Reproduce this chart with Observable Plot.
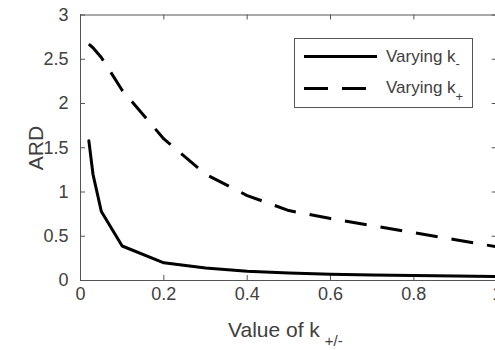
<!DOCTYPE html>
<html>
<head>
<meta charset="utf-8">
<script src="https://cdn.jsdelivr.net/npm/d3@7"></script>
<script src="https://cdn.jsdelivr.net/npm/@observablehq/plot@0.6"></script>
<style>
  html, body { margin: 0; padding: 0; background: #fff; }
  #chart { width: 495px; height: 350px; overflow: hidden; }
</style>
</head>
<body>
<div id="chart"></div>
<script>
// ---- data ----
const kValues = [0.02, 0.03, 0.05, 0.1, 0.2, 0.3, 0.4, 0.5, 0.6, 0.7, 0.8, 0.9, 1.0];
const ardVaryingKMinus = [1.58, 1.2, 0.78, 0.39, 0.2, 0.14, 0.105, 0.085, 0.07, 0.062, 0.056, 0.05, 0.045];
const ardVaryingKPlus  = [2.67, 2.63, 2.52, 2.15, 1.6, 1.2, 0.96, 0.79, 0.70, 0.62, 0.54, 0.46, 0.38];
const xTicks = [0, 0.2, 0.4, 0.6, 0.8, 1];
const yTicks = [0, 0.5, 1, 1.5, 2, 2.5, 3];
const seriesNames = ["Varying k-", "Varying k+"];

const rows = [
  ...kValues.map((k, i) => ({k, ard: ardVaryingKMinus[i], s: seriesNames[0]})),
  ...kValues.map((k, i) => ({k, ard: ardVaryingKPlus[i], s: seriesNames[1]}))
];

// ---- layout ----
const W = 495, H = 350;
const xRange = [80, 496.7];
const yRange = [280, 14.5];
const axisColor = "#555";
const textColor = "#404040";
const tickPx = 5;
const xTickLen = tickPx * 1 / (xRange[1] - xRange[0]);
const yTickLen = tickPx * 3 / (yRange[0] - yRange[1]);

const plot = Plot.plot({
  width: W,
  height: H,
  marginLeft: 80,
  marginRight: 0,
  marginTop: 14.5,
  marginBottom: 70,
  style: {fontFamily: "'Liberation Sans', Arial, Helvetica, sans-serif", background: "#fff", overflow: "visible"},
  x: {domain: [0, 1], range: xRange},
  y: {domain: [0, 3], range: yRange},
  marks: [
    // box
    Plot.ruleX([0, 1], {stroke: axisColor, strokeWidth: 1}),
    Plot.ruleY([0, 3], {stroke: axisColor, strokeWidth: 1}),
    // inward ticks
    Plot.ruleX(xTicks, {x: d => d, y1: 0, y2: yTickLen, stroke: axisColor}),
    Plot.ruleX(xTicks, {x: d => d, y1: 3 - yTickLen, y2: 3, stroke: axisColor}),
    Plot.ruleY(yTicks, {y: d => d, x1: 0, x2: xTickLen, stroke: axisColor}),
    Plot.ruleY(yTicks, {y: d => d, x1: 1 - xTickLen, x2: 1, stroke: axisColor}),
    // tick labels
    Plot.axisX({ticks: xTicks, tickFormat: d => String(d), tickSize: 0, tickPadding: 7, fontSize: 18, color: textColor, label: null}),
    Plot.axisY({ticks: yTicks, tickFormat: d => String(d), tickSize: 0, tickPadding: 12, fontSize: 18, color: textColor, label: null}),
    // series
    Plot.line(rows.filter(d => d.s === seriesNames[0]), {x: "k", y: "ard", stroke: "#000", strokeWidth: 3, strokeLinejoin: "round"}),
    Plot.line(rows.filter(d => d.s === seriesNames[1]), {x: "k", y: "ard", stroke: "#000", strokeWidth: 3, strokeDasharray: "22,14", strokeLinecap: "butt"})
  ]
});

document.getElementById("chart").appendChild(plot);

// ---- labels & legend (annotations) ----
const svg = d3.select(plot);
const font = "'Liberation Sans', Arial, Helvetica, sans-serif";

// x label
const xl = svg.append("text")
  .attr("x", 228).attr("y", 337).attr("text-anchor", "start")
  .attr("font-family", font).attr("font-size", 21).attr("fill", textColor);
xl.append("tspan").text("Value of k");
xl.append("tspan").attr("dx", 5).attr("dy", 9).attr("font-size", 15).text("+/-");

// y label
svg.append("text")
  .attr("transform", "translate(43,148) rotate(-90)")
  .attr("text-anchor", "middle")
  .attr("font-family", font).attr("font-size", 21).attr("fill", textColor)
  .text("ARD");

// legend
const lg = svg.append("g");
lg.append("rect").attr("x", 294.5).attr("y", 38.5).attr("width", 178).attr("height", 69)
  .attr("fill", "#fff").attr("stroke", axisColor).attr("stroke-width", 1);
lg.append("line").attr("x1", 304).attr("x2", 377).attr("y1", 56.5).attr("y2", 56.5)
  .attr("stroke", "#000").attr("stroke-width", 3);
lg.append("line").attr("x1", 304).attr("x2", 377).attr("y1", 88.5).attr("y2", 88.5)
  .attr("stroke", "#000").attr("stroke-width", 3).attr("stroke-dasharray", "24,14");
const t1 = lg.append("text").attr("x", 386).attr("y", 62).attr("text-anchor", "start")
  .attr("font-family", font).attr("font-size", 17).attr("fill", textColor);
t1.append("tspan").text("Varying k");
t1.append("tspan").attr("dx", 0).attr("dy", 6).attr("font-size", 13).text("-");
const t2 = lg.append("text").attr("x", 386).attr("y", 93).attr("text-anchor", "start")
  .attr("font-family", font).attr("font-size", 17).attr("fill", textColor);
t2.append("tspan").text("Varying k");
t2.append("tspan").attr("dx", 0).attr("dy", 8).attr("font-size", 13).text("+");
</script>
</body>
</html>
